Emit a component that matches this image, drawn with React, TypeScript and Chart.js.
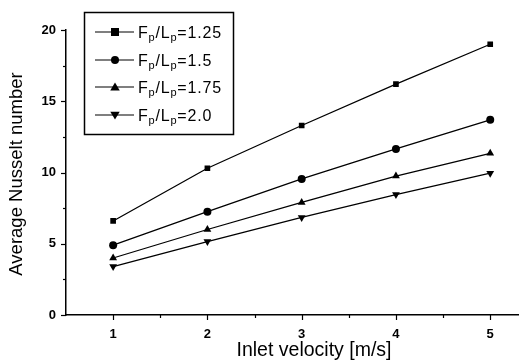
import React, { useEffect, useRef } from "react";
import { Chart, registerables } from "chart.js";

Chart.register(...registerables);

const velocities = [1, 2, 3, 4, 5];
const nu125 = [6.6, 10.3, 13.3, 16.2, 19.0];
const nu150 = [4.9, 7.25, 9.55, 11.65, 13.7];
const nu175 = [4.0, 6.0, 7.9, 9.75, 11.35];
const nu200 = [3.4, 5.15, 6.85, 8.45, 9.95];
const ratioLabels = ["1.25", "1.5", "1.75", "2.0"];
const xTicks = [1, 2, 3, 4, 5];
const yTicks = [0, 5, 10, 15, 20];

const seriesValues = [nu125, nu150, nu175, nu200];
const styles: any[] = [
  { pointStyle: "rect", radius: 4, rotation: 0 },
  { pointStyle: "circle", radius: 4, rotation: 0 },
  { pointStyle: "triangle", radius: 4.5, rotation: 0 },
  { pointStyle: "triangle", radius: 4.5, rotation: 180 },
];

const FONT = "'Liberation Sans', Arial, sans-serif";

function drawMarker(ctx: any, style: string, r: number, rot: number, x: number, y: number) {
  ctx.save();
  ctx.translate(x, y);
  ctx.rotate((rot * Math.PI) / 180);
  ctx.beginPath();
  if (style === "rect") {
    ctx.rect(-r, -r, 2 * r, 2 * r);
  } else if (style === "circle") {
    ctx.arc(0, 0, r, 0, Math.PI * 2);
  } else {
    const h = r * 1.5;
    ctx.moveTo(0, -h * 0.67);
    ctx.lineTo(r * 1.05, h * 0.5);
    ctx.lineTo(-r * 1.05, h * 0.5);
    ctx.closePath();
  }
  ctx.fill();
  ctx.restore();
}

const decorPlugin = {
  id: "decor",
  afterDraw(chart: any) {
    const ctx = chart.ctx;
    const xs = chart.scales.x;
    const ys = chart.scales.y;
    const area = chart.chartArea;
    ctx.save();
    ctx.strokeStyle = "#000";
    ctx.fillStyle = "#000";
    ctx.lineWidth = 1.2;
    for (let v = 0; v <= 20.001; v += 2.5) {
      const y = Math.round(ys.getPixelForValue(v)) + 0.5;
      const major = Math.abs(v % 5) < 1e-6;
      ctx.beginPath();
      ctx.moveTo(area.left, y);
      ctx.lineTo(area.left - (major ? 5 : 3), y);
      ctx.stroke();
    }
    for (let v = 1; v <= 5.001; v += 0.5) {
      const x = Math.round(xs.getPixelForValue(v)) + 0.5;
      const major = Math.abs(v % 1) < 1e-6;
      ctx.beginPath();
      ctx.moveTo(x, area.bottom);
      ctx.lineTo(x, area.bottom + (major ? 5 : 3));
      ctx.stroke();
    }
    ctx.textAlign = "center";
    ctx.textBaseline = "middle";
    ctx.font = "19.5px " + FONT;
    ctx.fillText("Inlet velocity [m/s]", 314, 351);
    ctx.save();
    ctx.translate(17, 174);
    ctx.rotate(-Math.PI / 2);
    ctx.font = "18.5px " + FONT;
    ctx.fillText("Average Nusselt number", 0, 0);
    ctx.restore();

    // legend
    const bx = 84, by = 12, bw = 149, bh = 122;
    ctx.lineWidth = 1.5;
    ctx.fillStyle = "#fff";
    ctx.fillRect(bx, by, bw, bh);
    ctx.strokeRect(bx + 0.5, by + 0.5, bw, bh);
    ctx.fillStyle = "#000";
    const rows = [32, 60, 87, 115];
    rows.forEach((ry, i) => {
      ctx.lineWidth = 1.2;
      ctx.beginPath();
      ctx.moveTo(95, ry);
      ctx.lineTo(134, ry);
      ctx.stroke();
      const s = styles[i];
      drawMarker(ctx, s.pointStyle, s.radius, s.rotation, 115, ry);
      ctx.textAlign = "left";
      ctx.textBaseline = "alphabetic";
      let x = 138;
      const base = ry + 5.5;
      const big = "16px " + FONT;
      const small = "11px " + FONT;
      const parts: [string, boolean][] = [
        ["F", false],
        ["p", true],
        ["/L", false],
        ["p", true],
        ["=" + ratioLabels[i], false],
      ];
      (ctx as any).letterSpacing = "0.8px";
      parts.forEach(([t, sub]) => {
        ctx.font = sub ? small : big;
        ctx.fillText(t, x, sub ? base + 3.5 : base);
        x += ctx.measureText(t).width;
      });
      (ctx as any).letterSpacing = "0px";
    });
    ctx.restore();
  },
};

export default function App() {
  const ref = useRef<HTMLCanvasElement>(null);
  useEffect(() => {
    const chart = new Chart(ref.current!, {
      type: "line",
      data: {
        datasets: seriesValues.map((vals, i) => ({
          label: "Fp/Lp=" + ratioLabels[i],
          data: velocities.map((v, j) => ({ x: v, y: vals[j] })),
          borderColor: "#000",
          backgroundColor: "#000",
          borderWidth: 1.3,
          pointStyle: styles[i].pointStyle,
          pointRadius: styles[i].radius,
          pointRotation: styles[i].rotation,
          pointBorderWidth: 0,
          tension: 0,
        })),
      },
      options: {
        responsive: false,
        animation: false,
        layout: { padding: { top: 30, right: 2, left: 0, bottom: 0 } },
        plugins: { legend: { display: false }, tooltip: { enabled: false } },
        scales: {
          x: {
            type: "linear",
            min: 0.5,
            max: 5.3,
            afterBuildTicks: (s: any) => {
              s.ticks = xTicks.map((v) => ({ value: v }));
            },
            afterFit: (s: any) => {
              s.height = 48;
            },
            grid: { display: false },
            border: { display: true, color: "#000", width: 1.5 },
            ticks: {
              color: "#000",
              padding: 4,
              font: { family: FONT, size: 13, weight: "bold" },
              callback: (v: any) => String(v),
              maxRotation: 0,
            },
          },
          y: {
            type: "linear",
            min: 0,
            max: 20,
            afterBuildTicks: (s: any) => {
              s.ticks = yTicks.map((v) => ({ value: v }));
            },
            afterFit: (s: any) => {
              s.width = 66;
            },
            grid: { display: false },
            border: { display: true, color: "#000", width: 1.5 },
            ticks: {
              color: "#000",
              padding: 2,
              font: { family: FONT, size: 13, weight: "bold" },
              callback: (v: any) => String(v),
            },
          },
        },
      },
      plugins: [decorPlugin],
    });
    return () => chart.destroy();
  }, []);
  return (
    <div style={{ position: "absolute", left: 0, top: 0, width: 523, height: 363, background: "#fff" }}>
      <canvas ref={ref} width={523} height={363} />
    </div>
  );
}
